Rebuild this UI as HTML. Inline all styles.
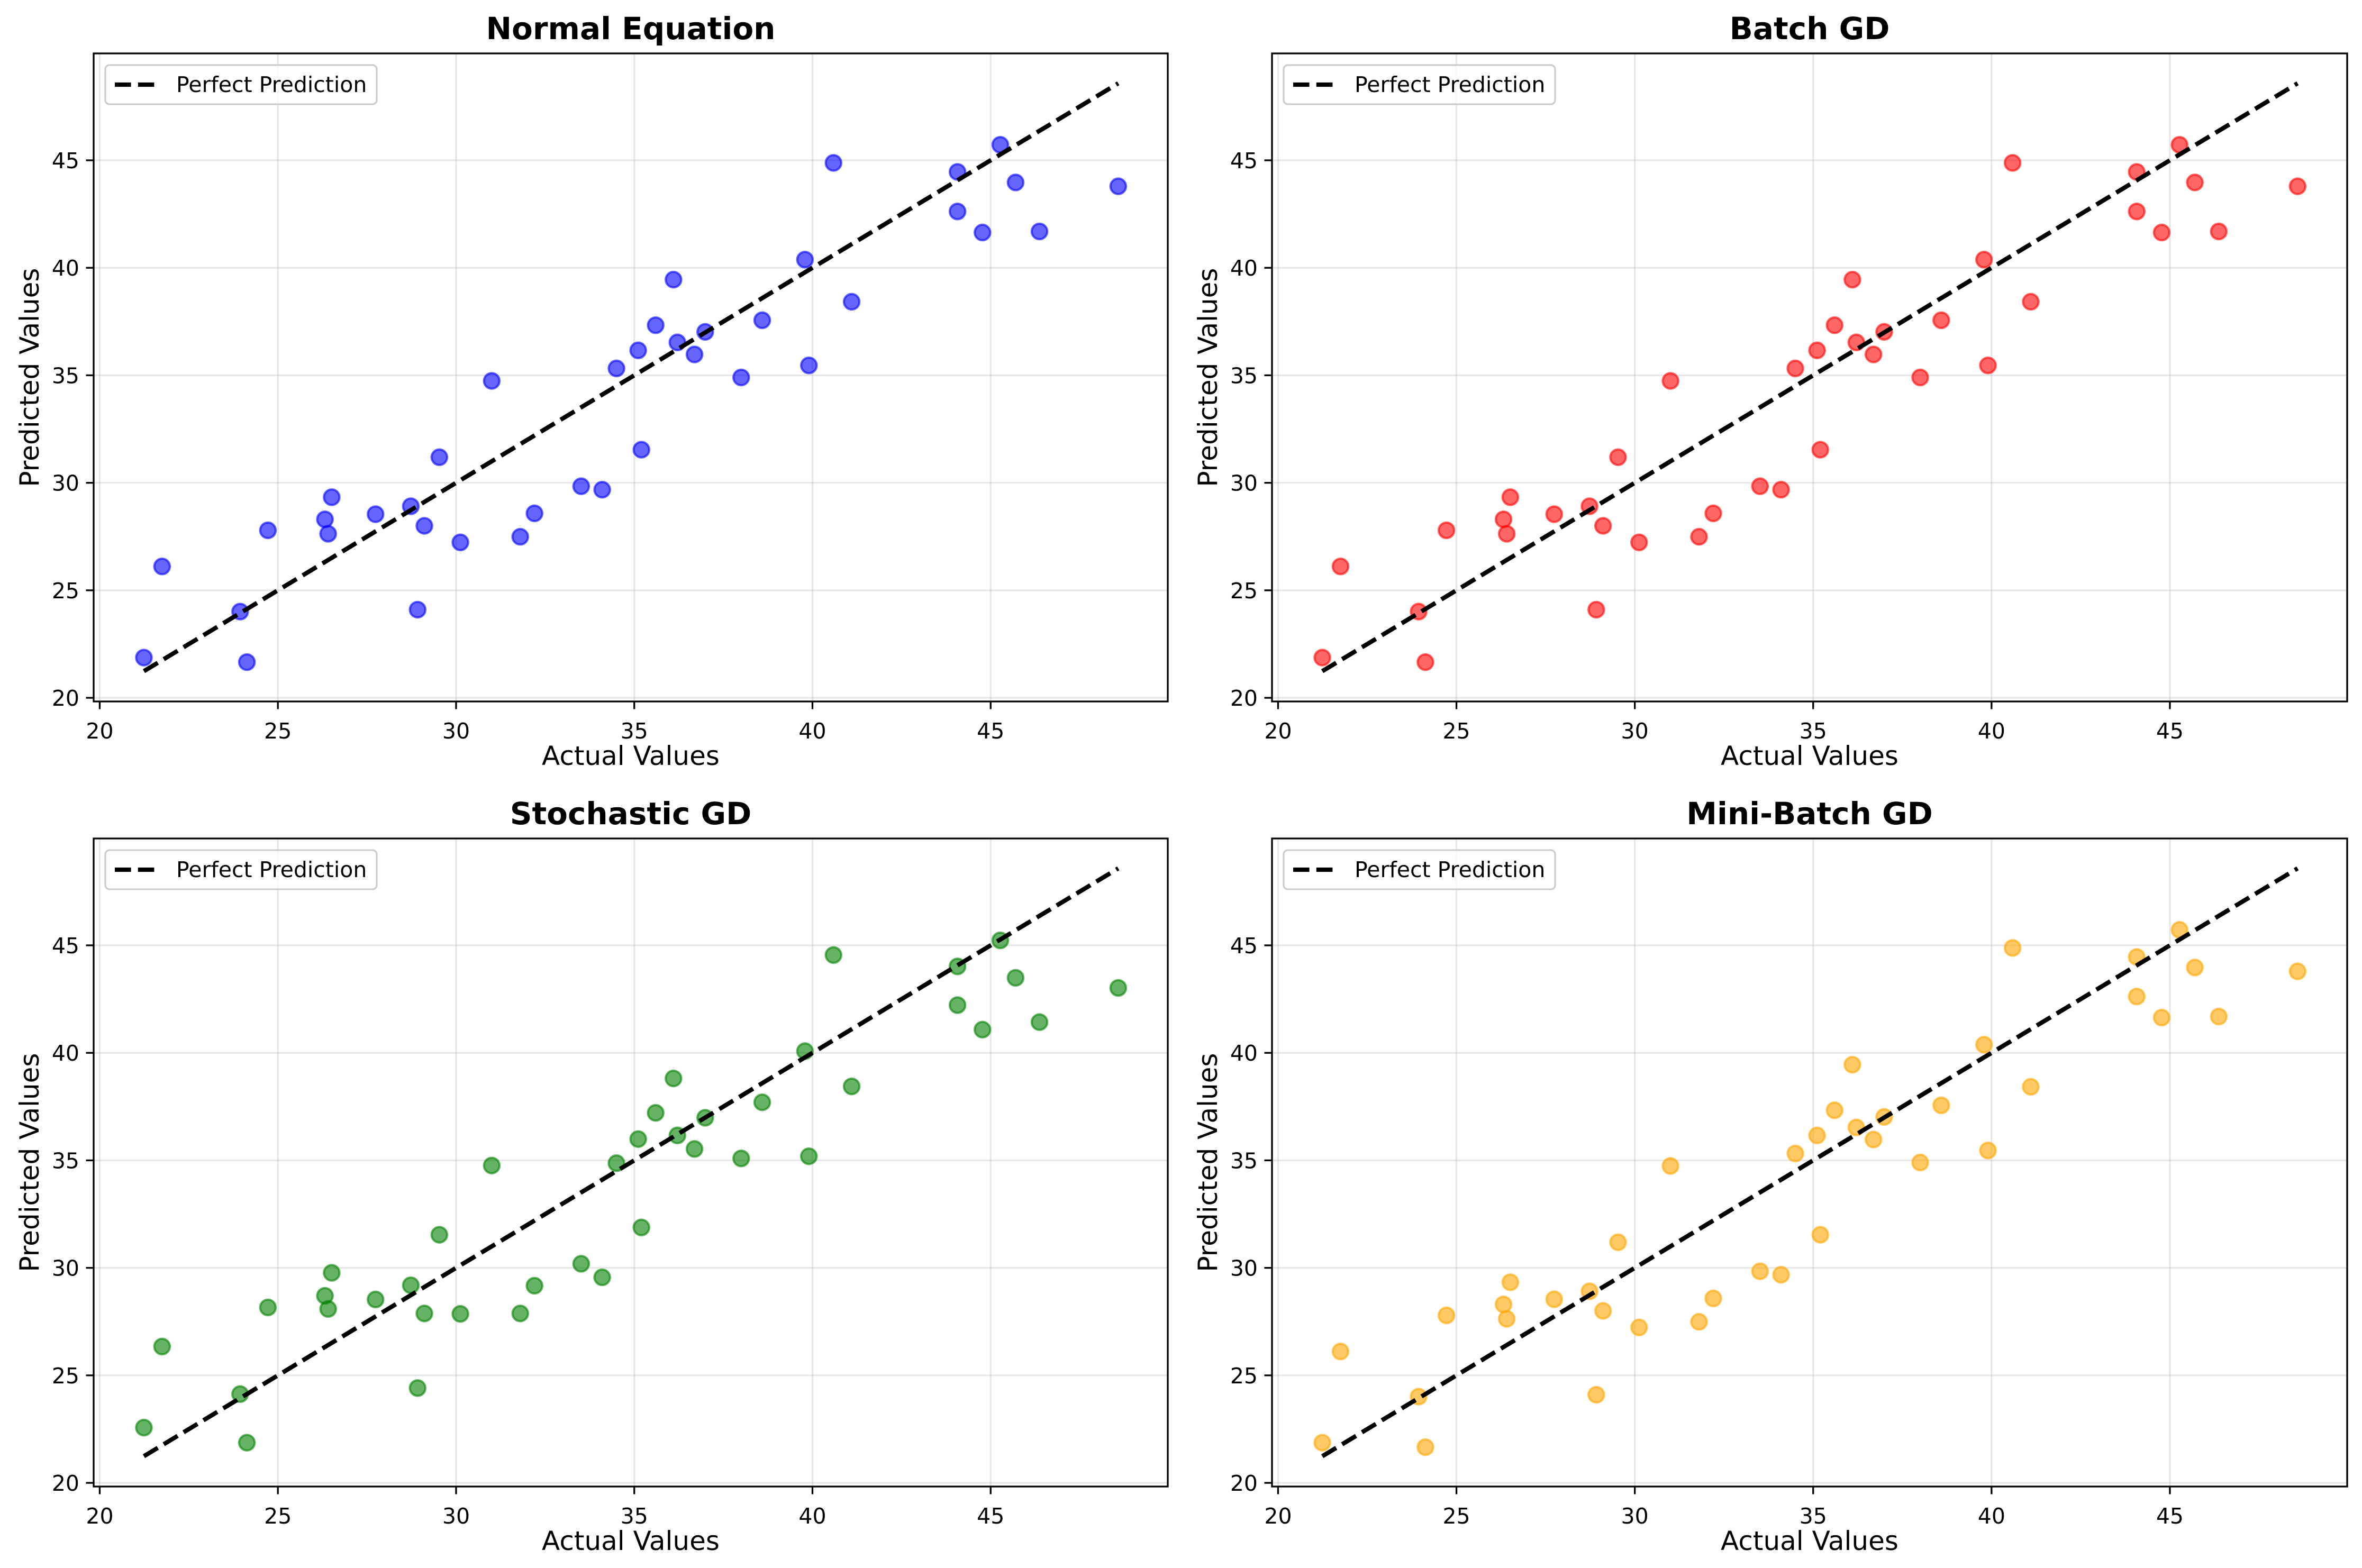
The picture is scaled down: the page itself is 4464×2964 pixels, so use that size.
<!DOCTYPE html>
<html>
<head>
<meta charset="utf-8">
<style>
html,body{margin:0;padding:0;background:#fff;}
svg{display:block;}
text{font-family:"DejaVu Sans","Liberation Sans",sans-serif;}
</style>
</head>
<body>
<svg id="fig" xmlns="http://www.w3.org/2000/svg" width="4464" height="2964" viewBox="0 0 4464 2964">
<rect width="4464" height="2964" fill="#fff"/>
</svg>
<script>
const actualValues = [21.24,21.75,23.94,24.13,24.72,26.32,26.41,26.51,27.74,28.73,28.92,29.11,29.53,30.12,31.00,31.80,32.20,33.51,34.10,34.50,35.11,35.20,35.60,36.10,36.21,36.69,36.99,38.00,38.59,39.79,39.90,40.59,41.10,44.07,44.07,44.77,45.27,45.70,46.37,48.58];
const predNormal = [21.87,26.11,24.01,21.66,27.79,28.30,27.63,29.33,28.54,28.91,24.10,28.00,31.19,27.23,34.74,27.49,28.58,29.84,29.68,35.32,36.16,31.54,37.33,39.45,36.53,35.97,37.02,34.90,37.56,40.38,35.46,44.88,38.42,44.46,42.62,41.64,45.72,43.97,41.69,43.79];
const predBatch = [21.87,26.11,24.01,21.66,27.79,28.30,27.63,29.33,28.54,28.91,24.10,28.00,31.19,27.23,34.74,27.49,28.58,29.84,29.68,35.32,36.16,31.54,37.33,39.45,36.53,35.97,37.02,34.90,37.56,40.38,35.46,44.88,38.42,44.46,42.62,41.64,45.72,43.97,41.69,43.79];
const predMini = [21.87,26.11,24.01,21.66,27.79,28.30,27.63,29.33,28.54,28.91,24.10,28.00,31.19,27.23,34.74,27.49,28.58,29.84,29.68,35.32,36.16,31.54,37.33,39.45,36.53,35.97,37.02,34.90,37.56,40.38,35.46,44.88,38.42,44.46,42.62,41.64,45.72,43.97,41.69,43.79];
const predSGD = [22.57,26.34,24.13,21.87,28.16,28.70,28.09,29.77,28.53,29.19,24.41,27.88,31.54,27.86,34.76,27.88,29.17,30.19,29.56,34.87,35.99,31.88,37.21,38.81,36.16,35.53,36.98,35.09,37.70,40.08,35.19,44.55,38.44,44.02,42.22,41.08,45.23,43.49,41.43,43.02];
const xTicks = [20,25,30,35,40,45];
const yTicks = [20,25,30,35,40,45];
const panelTitles = ["Normal Equation","Batch GD","Stochastic GD","Mini-Batch GD"];
const panelColors = ["blue","red","green","orange"];
const panelSeries = [predNormal,predBatch,predSGD,predMini];
const xLim = [19.83,49.97];
const yLim = [19.83,49.97];

const NS = "http://www.w3.org/2000/svg";
const svg = document.getElementById("fig");
const cols = [[177,2207],[2404,4436]];
const rows = [[101,1326],[1585,2810]];
function mk(tag, attrs, parent){
  const e = document.createElementNS(NS, tag);
  for (const k in attrs) e.setAttribute(k, attrs[k]);
  (parent||svg).appendChild(e);
  return e;
}
function slug(s){return s.toLowerCase().replace(/[^a-z0-9]+/g,'-');}

panelTitles.forEach((title, i) => {
  const [L,R] = cols[i%2];
  const [T,B] = rows[Math.floor(i/2)];
  const sx = v => L + (v - xLim[0]) / (xLim[1]-xLim[0]) * (R-L);
  const sy = v => B - (v - yLim[0]) / (yLim[1]-yLim[0]) * (B-T);
  const g = mk("g", {});
  
  

  xTicks.forEach(t => {
    const ln = mk("line",{x1:sx(t),x2:sx(t),y1:T,y2:B,stroke:"#b0b0b0","stroke-opacity":0.3,"stroke-width":3.3},g);
    
    
  });
  yTicks.forEach(t => {
    const ln = mk("line",{x1:L,x2:R,y1:sy(t),y2:sy(t),stroke:"#b0b0b0","stroke-opacity":0.3,"stroke-width":3.3},g);
    
    
  });

  const pts = panelSeries[i];
  actualValues.forEach((a, j) => {
    const c = mk("circle",{cx:sx(a),cy:sy(pts[j]),r:14.7,fill:panelColors[i],"fill-opacity":0.6,stroke:panelColors[i],"stroke-opacity":0.6,"stroke-width":4.1},g);
    
    
  });

  const mn = Math.min(...actualValues), mx = Math.max(...actualValues);
  const pl = mk("line",{x1:sx(mn),y1:sy(mn),x2:sx(mx),y2:sy(mx),stroke:"#000","stroke-width":8.3,"stroke-dasharray":"30.6 13.2"},g);
  
  

  const fr = mk("rect",{x:L,y:T,width:R-L,height:B-T,fill:"none",stroke:"#000","stroke-width":3.3},g);
  
  

  xTicks.forEach(t => {
    const tk = mk("line",{x1:sx(t),x2:sx(t),y1:B,y2:B+14.5,stroke:"#000","stroke-width":3.3},g);
    
    
    const tx = mk("text",{x:sx(t),y:B+70,"font-size":41,"text-anchor":"middle",fill:"#000"},g);
    tx.textContent = t;
    
    
  });
  yTicks.forEach(t => {
    const tk = mk("line",{x1:L-14.5,x2:L,y1:sy(t),y2:sy(t),stroke:"#000","stroke-width":3.3},g);
    
    
    const tx = mk("text",{x:L-27,y:sy(t)+15,"font-size":41,"text-anchor":"end",fill:"#000"},g);
    tx.textContent = t;
    
    
  });

  const tt = mk("text",{x:(L+R)/2,y:T-27,"font-size":58,"font-weight":"bold","text-anchor":"middle",fill:"#000"},g);
  tt.textContent = title;
  
  
  const xl = mk("text",{x:(L+R)/2,y:B+120,"font-size":50,"text-anchor":"middle",fill:"#000"},g);
  xl.textContent = "Actual Values";
  
  
  const yc = (T+B)/2;
  const yl = mk("text",{x:0,y:0,"font-size":50,"text-anchor":"middle",fill:"#000",transform:`translate(${L-104},${yc}) rotate(-90)`},g);
  yl.textContent = "Predicted Values";
  
  

  const lg = mk("g",{},g);
  
  
  const lb = mk("rect",{x:L+22,y:T+22,width:513,height:74,rx:8,fill:"#fff","fill-opacity":0.8,stroke:"#cccccc","stroke-width":3.3},lg);
  
  
  const ll = mk("line",{x1:L+40,x2:L+123,y1:T+59,y2:T+59,stroke:"#000","stroke-width":8.3,"stroke-dasharray":"30.6 13.2"},lg);
  
  
  const lt = mk("text",{x:L+156,y:T+73,"font-size":41,fill:"#000"},lg);
  lt.textContent = "Perfect Prediction";
  
  
});
</script>
</body>
</html>
